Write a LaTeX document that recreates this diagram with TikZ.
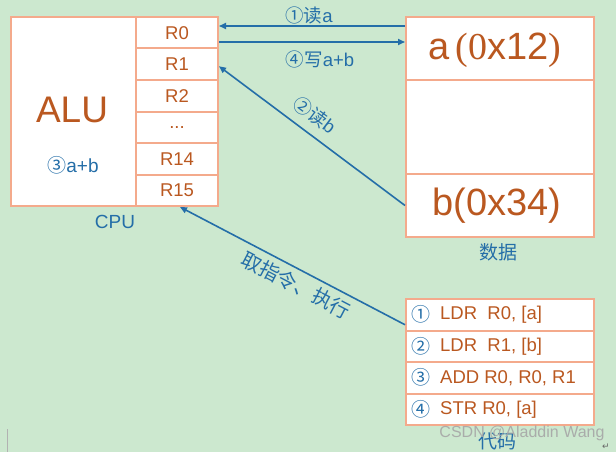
\documentclass[tikz,border=0pt]{standalone}
\usepackage{fontspec}
\setmainfont{Liberation Sans}
\newfontfamily\cjk{Noto Sans CJK SC}
\newfontfamily\serifp{Liberation Serif}
\newfontfamily\dejavu{DejaVu Sans}
\usetikzlibrary{arrows.meta}
\definecolor{bg}{RGB}{204,232,207}
\definecolor{bord}{RGB}{244,170,140}
\definecolor{brn}{RGB}{186,88,32}
\definecolor{blu}{RGB}{36,110,168}
\tikzset{
  cell/.style={draw=bord, line width=2pt, fill=white, inner sep=0pt, text=brn},
  reg/.style={cell, minimum width=82pt, minimum height=31.5pt, font=\fontsize{18.5}{18.5}\selectfont},
  datac/.style={cell, minimum width=188pt},
  codec/.style={cell, minimum width=188pt, minimum height=31.5pt},
  arr/.style={draw=blu, line width=1.6pt, -{Triangle[length=7pt,width=6pt]}},
  lbl/.style={text=blu, inner sep=0pt, font=\fontsize{18.5}{18.5}\selectfont},
  num/.style={text=blu, inner sep=0pt, font=\cjk\fontsize{19}{19}\selectfont},
  codet/.style={text=brn, inner sep=0pt, anchor=west, font=\fontsize{18.5}{18.5}\selectfont},
}
\begin{document}
\begin{tikzpicture}[x=1pt, y=-1pt]
\fill[bg] (0,0) rectangle (616,452);
\useasboundingbox (0,0) rectangle (616,452);
% CPU
\node[cell, minimum width=125pt, minimum height=189pt] (alu) at (73.5,111.5) {};
\node[reg] (r0) at (177,32.75) {R0};
\node[reg] (r1) at (177,64.25) {R1};
\node[reg] (r2) at (177,95.75) {R2};
\node[reg] (rd) at (177,127.25) {...};
\node[reg] (r14) at (177,158.75) {R14};
\node[reg] (r15) at (177,190.25) {R15};
\node[text=brn, inner sep=0pt, font=\fontsize{37}{37}\selectfont] (alut) at (72,110) {ALU};
\node[lbl, font=\fontsize{19}{19}\selectfont] (alub) at (73,165) {{\cjk ③}a+b};
\node[lbl, font=\fontsize{19}{19}\selectfont] (cpu) at (115,222) {CPU};
% data
\node[datac, minimum height=63pt] (d1) at (500,48.5) {};
\node[datac, minimum height=94pt] (d2) at (500,127) {};
\node[datac, minimum height=63pt] (d3) at (500,205.5) {};
\node[text=brn, inner sep=0pt, font=\fontsize{38}{38}\selectfont] (av) at (495,50) {a\,{\serifp(0}x12{\serifp)}};
\node[text=brn, inner sep=0pt, font=\fontsize{38}{38}\selectfont] (bv) at (497,206) {b(0x34)};
\node[lbl, font=\cjk\fontsize{19}{19}\selectfont] (sj) at (498,252) {数据};
% code
\node[codec] (c1) at (500,314.75) {};
\node[codec] (c2) at (500,346.25) {};
\node[codec] (c3) at (500,377.75) {};
\node[codec] (c4) at (500,409.25) {};
\foreach \i/\n/\t in {c1/①/{LDR\ \ R0, [a]}, c2/②/{LDR\ \ R1, [b]}, c3/③/{ADD R0, R0, R1}, c4/④/{STR R0, [a]}}{
  \node[num, anchor=west] at ([xshift=6pt]\i.west) {\n};
  \node[codet] at ([xshift=35pt]\i.west) {\t};
}
\node[lbl, font=\cjk\fontsize{19}{19}\selectfont] (dm) at (497,441) {代码};
% arrows
\draw[arr] ([yshift=-10pt]d1.north west) -- ([yshift=-10pt]r0.north east);
\draw[arr] ([yshift=-26pt]r0.north east) -- ([yshift=-26pt]d1.north west);
\draw[arr] (d3.west) -- ([yshift=-2pt]r1.east);
\draw[arr] ([yshift=-10pt]c1.west) -- ([xshift=3pt]r15.south);
\node[lbl] (l1) at (309,15) {{\cjk ①读}a};
\node[lbl] (l4) at (320,59) {{\cjk ④写}a+b};
\node[lbl, rotate=-37] (l2) at (315,115) {{\cjk ②读}b};
\node[lbl, rotate=-27.5, font=\cjk\fontsize{20}{20}\selectfont] (l5) at (296,285) {取指令、执行};
% watermark and marks
\node[text=gray!70, inner sep=0pt, font=\fontsize{16}{16}\selectfont, opacity=0.9] (wm) at (522,433) {CSDN @Aladdin Wang};
\node[text=gray!80!black, inner sep=0pt, font=\dejavu\fontsize{9}{9}\selectfont] (ret) at (606,447) {↵};
\draw[gray!60, line width=0.8pt] (7,429) -- (7,452);
\end{tikzpicture}
\end{document}
